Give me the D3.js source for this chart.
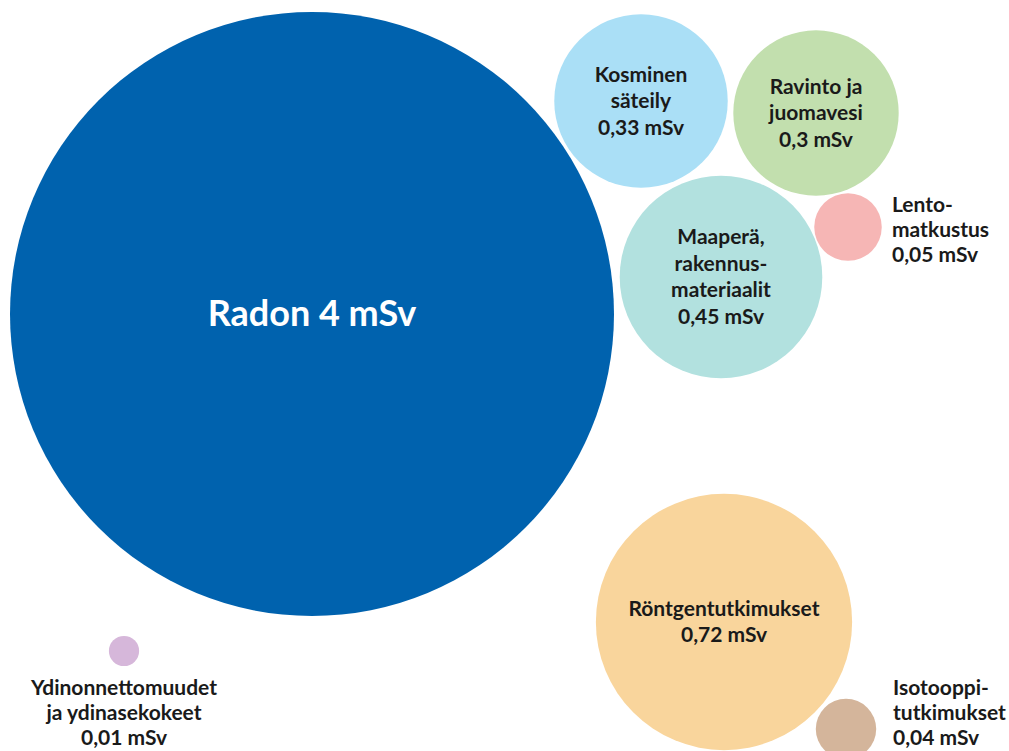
<!DOCTYPE html>
<html>
<head>
<meta charset="utf-8">
<script src="https://cdn.jsdelivr.net/npm/d3@7"></script>
<style>
  html, body { margin: 0; padding: 0; background: #fff; }
  svg { display: block; }
  text { font-family: Lato, "Noto Sans", sans-serif; font-weight: 700; }
</style>
</head>
<body>
<svg id="chart" width="1009" height="751"></svg>
<script>
// data
const labels = [
  ["Radon 4 mSv"],
  ["Kosminen", "säteily", "0,33 mSv"],
  ["Ravinto ja", "juomavesi", "0,3 mSv"],
  ["Maaperä,", "rakennus-", "materiaalit", "0,45 mSv"],
  ["Lento-", "matkustus", "0,05 mSv"],
  ["Röntgentutkimukset", "0,72 mSv"],
  ["Isotooppi-", "tutkimukset", "0,04 mSv"],
  ["Ydinonnettomuudet", "ja ydinasekokeet", "0,01 mSv"]
]
const values = [4, 0.33, 0.3, 0.45, 0.05, 0.72, 0.04, 0.01]
const colors = ["#0062ae", "#aadff6", "#c2dfae", "#b2e1df", "#f6b6b5", "#f9d59c", "#d4b59b", "#d6b7da"]

// layout: bubble centres; outside labels get offset of first baseline from centre
const layout = [
  { cx: 312, cy: 314, pos: "inside" },
  { cx: 641, cy: 101, pos: "inside" },
  { cx: 816, cy: 113, pos: "inside" },
  { cx: 721, cy: 277, pos: "inside" },
  { cx: 848, cy: 227, pos: "outside", lx: 44, ly: -15, anchor: "start" },
  { cx: 724, cy: 622, pos: "inside" },
  { cx: 846, cy: 729, pos: "outside", lx: 47, ly: -34, anchor: "start" },
  { cx: 124, cy: 651, pos: "outside", lx: 0, ly: 44, anchor: "middle" }
]

const svg = d3.select("#chart")

//scale area ~ value
const r = d3.scaleSqrt().domain([0, 4]).range([0, 302])

const data = values.map((v, i) => ({
  value: v,
  lines: labels[i],
  color: colors[i],
  ...layout[i]
}))

const g = svg.selectAll("g.bubble")
  .data(data)
  .join("g")
  .attr("class", "bubble")

g.append("circle")
  .attr("cx", (d) => d.cx)
  .attr("cy", (d) => d.cy)
  .attr("r", (d) => r(d.value))
  .attr("fill", (d) => d.color)

g.each(function (d, i) {
  const sel = d3.select(this)
  const big = i === 0
  let x, y, anchor, lineH
  if (d.pos === "inside") {
    lineH = 26.5
    x = d.cx
    // centre the block of lines on the bubble (x-height middle ~ 7px above baseline)
    y = d.cy + 7 - (d.lines.length - 1) / 2 * lineH
    anchor = "middle"
  } else {
    lineH = 25
    x = d.cx + d.lx
    y = d.cy + d.ly
    anchor = d.anchor
  }

  const t = sel.append("text")
    .attr("text-anchor", anchor)
    .attr("fill", big ? "#ffffff" : "#1a1a1a")
    .style("font-size", big ? "36px" : "21px")

  t.selectAll("tspan")
    .data(d.lines)
    .join("tspan")
    .attr("x", x)
    .attr("y", (l, j) => y + j * lineH + (big ? 5 : 0))
    .text((l) => l)
})
</script>
</body>
</html>
